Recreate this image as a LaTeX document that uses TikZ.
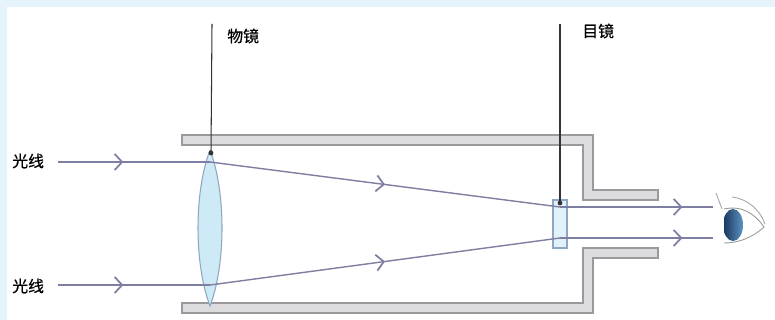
\documentclass[tikz,border=0pt]{standalone}
\usepackage{fontspec}
\newfontfamily\cjk[FakeBold=0.6]{Noto Sans CJK SC}
\usetikzlibrary{arrows.meta,decorations.markings}
\definecolor{raycol}{HTML}{7E7EA2}
\definecolor{wallline}{HTML}{9A9A9E}
\definecolor{wallfill}{HTML}{DCDCDE}
\definecolor{lensfill}{HTML}{CDEAF6}
\definecolor{lensline}{HTML}{8EA6BE}
\definecolor{frame}{HTML}{E5F3FB}
\definecolor{irisdark}{HTML}{17365C}
\definecolor{irislight}{HTML}{5E93C2}
\tikzset{
  ray/.style={draw=raycol, line width=0.8pt},
  chev/.style={postaction={decorate,decoration={markings,
    mark=at position #1 with {\arrow[raycol,line width=1pt]{Straight Barb[length=1.5mm,width=3.2mm]}}}}},
  wall/.style={draw=wallline, fill=wallfill, line width=0.6pt},
  pointer/.style={draw=black!80, line width=0.6pt},
  label/.style={font=\cjk\fontsize{9}{10}\selectfont, anchor=west, inner sep=0pt},
}
\begin{document}
\begin{tikzpicture}[x=0.2mm,y=-0.2mm]
\useasboundingbox (0,0) rectangle (775,320);
\fill[frame] (0,0) rectangle (775,320);
\fill[white] (7,7) rectangle (775,320);
%
% tube walls
\path[wall] (182,135) -- (593,135) -- (593,190) -- (658,190) -- (658,200)
  -- (583,200) -- (583,145) -- (182,145) -- cycle;
\path[wall] (182,313) -- (593,313) -- (593,258) -- (658,258) -- (658,248)
  -- (583,248) -- (583,303) -- (182,303) -- cycle;
%
% objective lens
\draw[lensline, fill=lensfill, line width=0.6pt] (210,150)
  .. controls (226,192) and (226,264) .. (210,306)
  .. controls (194,264) and (194,192) .. (210,150);
% eyepiece
\draw[lensline, fill=lensfill!60, line width=0.6pt] (553,200) rectangle (567,248);
%
\coordinate(inA) at (58,162);
\coordinate(inB) at (58,285);
\coordinate(objA) at (210,162);
\coordinate(objB) at (210,285);
\coordinate(eyeA) at (560,207);
\coordinate(eyeB) at (560,238);
\coordinate(outA) at (713,207);
\coordinate(outB) at (713,238);
%
\draw[ray,chev=0.43](inA) -- (objA);
\draw[ray,chev=0.43](inB) -- (objB);
\draw[ray,chev=0.5](objA) -- (eyeA);
\draw[ray,chev=0.5](objB) -- (eyeB);
\draw[ray,chev=0.8](eyeA) -- (outA);
\draw[ray,chev=0.8](eyeB) -- (outB);
%
\node[label](lightA) at (12,161) {光线};
\node[label](lightB) at (12,286) {光线};
%
\coordinate(objtop) at (211,153);
\coordinate(eptop) at (560,203);
\node[label](objective) at (227,36) {物镜};
\node[label](eyepiece) at (582,31) {目镜};
\draw[pointer] (212,24) -- (objtop);
\draw[pointer] (560,24) -- (eptop);
\fill[black!80] (objtop) circle (2.4);
\fill[black!80] (eptop) circle (2.4);
%
% eye
\begin{scope}
\clip (724,209) .. controls (742,205) and (755,214) .. (764,227)
  .. controls (752,238) and (738,243) .. (724,243) -- cycle;
\fill[white] (715,200) rectangle (770,250);
\shade[left color=irisdark, right color=irislight] (733,225) ellipse (10 and 16);
\end{scope}
\draw[black!40, line width=0.5pt] (724,209) .. controls (742,205) and (755,214) .. (764,227)
  .. controls (752,238) and (738,243) .. (724,243);
\draw[black!35, line width=0.5pt] (732,197) .. controls (748,199) and (760,210) .. (765,224);
\draw[black!35, line width=0.5pt] (716,193) -- (722,209);
\end{tikzpicture}
\end{document}
